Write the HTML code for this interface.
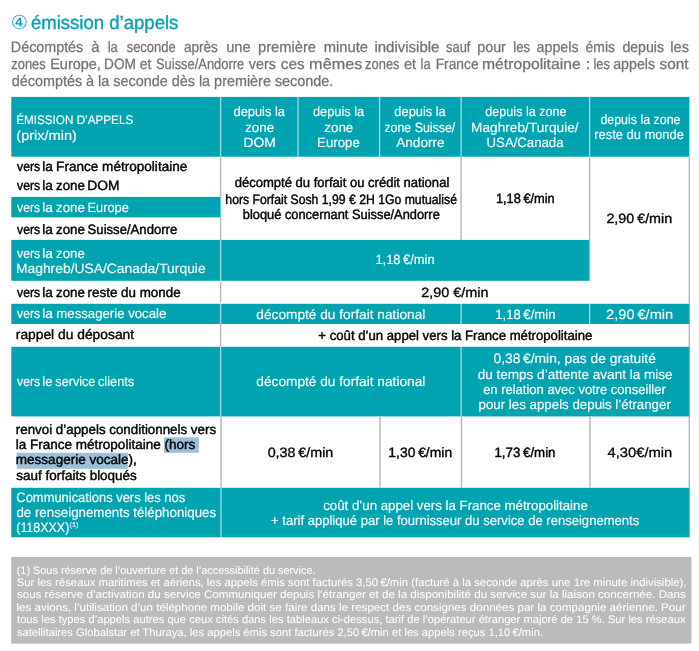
<!DOCTYPE html>
<html lang="fr"><head><meta charset="utf-8"><title>émission d’appels</title>
<style>
html,body{margin:0;padding:0;background:#fff;}
body{width:699px;height:651px;overflow:hidden;font-family:'Liberation Sans', sans-serif;}
svg{display:block}
svg text{font-family:'Liberation Sans', sans-serif;white-space:pre;text-rendering:geometricPrecision;}
</style></head><body>
<svg width="699" height="651" viewBox="0 0 699 651">
<g>
<rect x="11.30" y="96.90" width="678.10" height="59.80" fill="#00a3b0"/>
<rect x="11.30" y="196.90" width="209.30" height="20.45" fill="#00a3b0"/>
<rect x="11.30" y="239.90" width="578.30" height="40.90" fill="#00a3b0"/>
<rect x="11.30" y="303.80" width="678.10" height="20.20" fill="#00a3b0"/>
<rect x="11.30" y="346.80" width="678.10" height="69.60" fill="#00a3b0"/>
<rect x="11.30" y="487.80" width="678.10" height="49.40" fill="#00a3b0"/>
<rect x="11.20" y="557.00" width="680.20" height="86.60" fill="#bbbbbb"/>
<rect x="164.00" y="437.30" width="34.80" height="15.50" fill="#9dc0da"/>
<rect x="16.70" y="452.80" width="111.10" height="16.00" fill="#9dc0da"/>
<rect x="219.95" y="96.90" width="1.30" height="59.80" fill="#ffffff" fill-opacity="0.62"/>
<rect x="297.35" y="96.90" width="1.30" height="59.80" fill="#ffffff" fill-opacity="0.62"/>
<rect x="378.95" y="96.90" width="1.30" height="59.80" fill="#ffffff" fill-opacity="0.62"/>
<rect x="460.45" y="96.90" width="1.30" height="59.80" fill="#ffffff" fill-opacity="0.62"/>
<rect x="588.95" y="96.90" width="1.30" height="59.80" fill="#ffffff" fill-opacity="0.62"/>
<rect x="219.95" y="239.90" width="1.30" height="40.90" fill="#ffffff" fill-opacity="0.62"/>
<rect x="219.95" y="303.80" width="1.30" height="20.20" fill="#ffffff" fill-opacity="0.62"/>
<rect x="460.45" y="303.80" width="1.30" height="20.20" fill="#ffffff" fill-opacity="0.62"/>
<rect x="588.95" y="303.80" width="1.30" height="20.20" fill="#ffffff" fill-opacity="0.62"/>
<rect x="219.95" y="346.80" width="1.30" height="69.60" fill="#ffffff" fill-opacity="0.62"/>
<rect x="460.45" y="346.80" width="1.30" height="69.60" fill="#ffffff" fill-opacity="0.62"/>
<rect x="220.35" y="487.80" width="1.30" height="49.40" fill="#ffffff" fill-opacity="0.62"/>
<rect x="219.90" y="156.70" width="1.40" height="40.20" fill="#b6b6b6"/>
<rect x="219.90" y="217.35" width="1.40" height="22.55" fill="#b6b6b6"/>
<rect x="460.40" y="156.70" width="1.40" height="83.20" fill="#b6b6b6"/>
<rect x="588.90" y="156.70" width="1.40" height="124.10" fill="#b6b6b6"/>
<rect x="219.90" y="281.80" width="1.40" height="20.70" fill="#b6b6b6"/>
<rect x="219.90" y="324.00" width="1.40" height="22.80" fill="#b6b6b6"/>
<rect x="220.30" y="416.40" width="1.40" height="71.40" fill="#b6b6b6"/>
<rect x="379.30" y="416.40" width="1.40" height="71.40" fill="#b6b6b6"/>
<rect x="460.80" y="416.40" width="1.40" height="71.40" fill="#b6b6b6"/>
<rect x="589.30" y="416.40" width="1.40" height="71.40" fill="#b6b6b6"/>
<rect x="688.75" y="156.70" width="0.90" height="380.50" fill="#8f8f8f"/>
<rect x="11.30" y="537.10" width="678.10" height="0.60" fill="#b6b6b6" fill-opacity="0.5"/>
</g>
<g>
<text x="10.85" y="28.85" font-size="19.25" fill="#06a1b4" font-family="&quot;DejaVu Sans&quot;, sans-serif">④</text>
<text transform="translate(30.91 28.70) scale(0.9764 1)" font-size="19" fill="#06a1b4" stroke="#06a1b4" stroke-width="0.35">émission d’appels</text>
<text transform="translate(10.83 51.80) scale(0.9542 1)" font-size="15.0" fill="#707174" stroke="#707174" stroke-width="0.25">Décomptés</text>
<text transform="translate(91.37 51.80) scale(0.9864 1)" font-size="15.0" fill="#707174" stroke="#707174" stroke-width="0.25">à</text>
<text transform="translate(107.63 51.80) scale(0.8627 1)" font-size="15.0" fill="#707174" stroke="#707174" stroke-width="0.25">la</text>
<text transform="translate(126.64 51.80) scale(0.8647 1)" font-size="15.0" fill="#707174" stroke="#707174" stroke-width="0.25">seconde</text>
<text transform="translate(183.92 51.80) scale(0.9053 1)" font-size="15.0" fill="#707174" stroke="#707174" stroke-width="0.25">après</text>
<text transform="translate(226.15 51.80) scale(0.9792 1)" font-size="15.0" fill="#707174" stroke="#707174" stroke-width="0.25">une</text>
<text transform="translate(258.05 51.80) scale(0.9782 1)" font-size="15.0" fill="#707174" stroke="#707174" stroke-width="0.25">première</text>
<text transform="translate(323.72 51.80) scale(0.9825 1)" font-size="15.0" fill="#707174" stroke="#707174" stroke-width="0.25">minute</text>
<text transform="translate(374.40 51.80) scale(1.0006 1)" font-size="15.0" fill="#707174" stroke="#707174" stroke-width="0.25">indivisible</text>
<text transform="translate(446.02 51.80) scale(0.8600 1)" font-size="15.0" fill="#707174" stroke="#707174" stroke-width="0.25">sauf</text>
<text transform="translate(477.28 51.80) scale(0.9512 1)" font-size="15.0" fill="#707174" stroke="#707174" stroke-width="0.25">pour</text>
<text transform="translate(513.31 51.80) scale(0.8796 1)" font-size="15.0" fill="#707174" stroke="#707174" stroke-width="0.25">les</text>
<text transform="translate(536.60 51.80) scale(0.9483 1)" font-size="15.0" fill="#707174" stroke="#707174" stroke-width="0.25">appels</text>
<text transform="translate(585.61 51.80) scale(0.9282 1)" font-size="15.0" fill="#707174" stroke="#707174" stroke-width="0.25">émis</text>
<text transform="translate(622.41 51.80) scale(0.9412 1)" font-size="15.0" fill="#707174" stroke="#707174" stroke-width="0.25">depuis</text>
<text transform="translate(670.31 51.80) scale(0.9760 1)" font-size="15.0" fill="#707174" stroke="#707174" stroke-width="0.25">les</text>
<text transform="translate(11.31 68.80) scale(0.8600 1)" font-size="15.0" fill="#707174" stroke="#707174" stroke-width="0.25">zones</text>
<text transform="translate(50.22 68.80) scale(0.9628 1)" font-size="15.0" fill="#707174" stroke="#707174" stroke-width="0.25">Europe,</text>
<text transform="translate(104.08 68.80) scale(0.9098 1)" font-size="15.0" fill="#707174" stroke="#707174" stroke-width="0.25">DOM</text>
<text transform="translate(139.81 68.80) scale(0.9267 1)" font-size="15.0" fill="#707174" stroke="#707174" stroke-width="0.25">et</text>
<text transform="translate(156.00 68.80) scale(0.8600 1)" font-size="15.0" fill="#707174" stroke="#707174" stroke-width="0.25">Suisse/Andorre</text>
<text transform="translate(248.75 68.80) scale(0.9552 1)" font-size="15.0" fill="#707174" stroke="#707174" stroke-width="0.25">vers</text>
<text transform="translate(280.75 68.80) scale(1.0197 1)" font-size="15.0" fill="#707174" stroke="#707174" stroke-width="0.25">ces</text>
<text transform="translate(309.12 68.80) scale(1.0811 1)" font-size="15.0" fill="#707174" stroke="#707174" stroke-width="0.25">mêmes</text>
<text transform="translate(365.11 68.80) scale(0.8600 1)" font-size="15.0" fill="#707174" stroke="#707174" stroke-width="0.25">zones</text>
<text transform="translate(403.88 68.80) scale(0.9777 1)" font-size="15.0" fill="#707174" stroke="#707174" stroke-width="0.25">et</text>
<text transform="translate(420.55 68.80) scale(0.8600 1)" font-size="15.0" fill="#707174" stroke="#707174" stroke-width="0.25">la</text>
<text transform="translate(435.67 68.80) scale(0.9199 1)" font-size="15.0" fill="#707174" stroke="#707174" stroke-width="0.25">France</text>
<text transform="translate(481.96 68.80) scale(1.0480 1)" font-size="15.0" fill="#707174" stroke="#707174" stroke-width="0.25">métropolitaine</text>
<text transform="translate(585.60 68.80) scale(1.2000 1)" font-size="15.0" fill="#707174" stroke="#707174" stroke-width="0.25">:</text>
<text transform="translate(593.45 68.80) scale(0.8600 1)" font-size="15.0" fill="#707174" stroke="#707174" stroke-width="0.25">les</text>
<text transform="translate(613.20 68.80) scale(0.9483 1)" font-size="15.0" fill="#707174" stroke="#707174" stroke-width="0.25">appels</text>
<text transform="translate(659.57 68.80) scale(1.0243 1)" font-size="15.0" fill="#707174" stroke="#707174" stroke-width="0.25">sont</text>
<text transform="translate(11.70 85.80) scale(0.9595 1)" font-size="15.0" fill="#707174" stroke="#707174" stroke-width="0.25">décomptés à la seconde dès la première seconde.</text>
<text transform="translate(16.14 124.30) scale(0.9448 1)" font-size="12.4" fill="#ffffff" stroke="#ffffff" stroke-width="0.15">ÉMISSION D’APPELS</text>
<text transform="translate(16.30 139.90) scale(1.0774 1)" font-size="13.5" fill="#ffffff" stroke="#ffffff" stroke-width="0.15">(prix/min)</text>
<text transform="translate(233.56 116.20) scale(0.9500 1)" font-size="13.5" fill="#ffffff" stroke="#ffffff" stroke-width="0.15">depuis la</text>
<text transform="translate(245.16 131.70) scale(0.9919 1)" font-size="13.5" fill="#ffffff" stroke="#ffffff" stroke-width="0.15">zone</text>
<text transform="translate(243.46 146.80) scale(1.0280 1)" font-size="13.5" fill="#ffffff" stroke="#ffffff" stroke-width="0.15">DOM</text>
<text transform="translate(312.96 116.20) scale(0.9481 1)" font-size="13.5" fill="#ffffff" stroke="#ffffff" stroke-width="0.15">depuis la</text>
<text transform="translate(324.26 131.70) scale(0.9919 1)" font-size="13.5" fill="#ffffff" stroke="#ffffff" stroke-width="0.15">zone</text>
<text transform="translate(317.11 146.80) scale(0.9803 1)" font-size="13.5" fill="#ffffff" stroke="#ffffff" stroke-width="0.15">Europe</text>
<text transform="translate(394.36 116.20) scale(0.9500 1)" font-size="13.5" fill="#ffffff" stroke="#ffffff" stroke-width="0.15">depuis la</text>
<text transform="translate(384.40 131.70) scale(0.9173 1)" font-size="13.5" fill="#ffffff" stroke="#ffffff" stroke-width="0.15">zone Suisse/</text>
<text transform="translate(396.27 146.80) scale(1.0042 1)" font-size="13.5" fill="#ffffff" stroke="#ffffff" stroke-width="0.15">Andorre</text>
<text transform="translate(485.37 116.20) scale(0.9313 1)" font-size="13.5" fill="#ffffff" stroke="#ffffff" stroke-width="0.15">depuis la zone</text>
<text transform="translate(471.08 131.70) scale(1.0138 1)" font-size="13.5" fill="#ffffff" stroke="#ffffff" stroke-width="0.15">Maghreb/Turquie/</text>
<text transform="translate(486.58 146.80) scale(0.9761 1)" font-size="13.5" fill="#ffffff" stroke="#ffffff" stroke-width="0.15">USA/Canada</text>
<text transform="translate(600.38 123.50) scale(0.9197 1)" font-size="13.5" fill="#ffffff" stroke="#ffffff" stroke-width="0.15">depuis la zone</text>
<text transform="translate(594.24 138.90) scale(0.9555 1)" font-size="13.5" fill="#ffffff" stroke="#ffffff" stroke-width="0.15">reste du monde</text>
<text transform="translate(17.06 170.70) scale(0.9011 1)" font-size="13.5" fill="#000000" stroke="#000000" stroke-width="0.42">vers</text>
<text transform="translate(42.28 170.70) scale(1.0107 1)" font-size="13.5" fill="#000000" stroke="#000000" stroke-width="0.4029385429385436">la</text>
<text transform="translate(56.09 170.70) scale(1.0050 1)" font-size="13.5" fill="#000000" stroke="#000000" stroke-width="0.4120090337933594">France métropolitaine</text>
<text transform="translate(17.06 189.60) scale(0.9011 1)" font-size="13.5" fill="#000000" stroke="#000000" stroke-width="0.42">vers</text>
<text transform="translate(42.28 189.60) scale(1.0107 1)" font-size="13.5" fill="#000000" stroke="#000000" stroke-width="0.4029385429385436">la</text>
<text transform="translate(56.06 189.60) scale(0.9848 1)" font-size="13.5" fill="#000000" stroke="#000000" stroke-width="0.42">zone</text>
<text transform="translate(87.17 189.60) scale(1.0246 1)" font-size="13.5" fill="#000000" stroke="#000000" stroke-width="0.38069838411126117">DOM</text>
<text transform="translate(17.06 211.50) scale(0.9011 1)" font-size="13.5" fill="#ffffff" stroke="#ffffff" stroke-width="0.15">vers</text>
<text transform="translate(42.28 211.50) scale(1.0107 1)" font-size="13.5" fill="#ffffff" stroke="#ffffff" stroke-width="0.15">la</text>
<text transform="translate(56.06 211.50) scale(0.9848 1)" font-size="13.5" fill="#ffffff" stroke="#ffffff" stroke-width="0.15">zone</text>
<text transform="translate(87.45 211.50) scale(0.9516 1)" font-size="13.5" fill="#ffffff" stroke="#ffffff" stroke-width="0.15">Europe</text>
<text transform="translate(17.06 233.60) scale(0.9011 1)" font-size="13.5" fill="#000000" stroke="#000000" stroke-width="0.42">vers</text>
<text transform="translate(42.28 233.60) scale(1.0107 1)" font-size="13.5" fill="#000000" stroke="#000000" stroke-width="0.4029385429385436">la</text>
<text transform="translate(56.06 233.60) scale(0.9848 1)" font-size="13.5" fill="#000000" stroke="#000000" stroke-width="0.42">zone</text>
<text transform="translate(87.60 233.60) scale(0.9716 1)" font-size="13.5" fill="#000000" stroke="#000000" stroke-width="0.42">Suisse/Andorre</text>
<text transform="translate(17.06 258.20) scale(0.9011 1)" font-size="13.5" fill="#ffffff" stroke="#ffffff" stroke-width="0.15">vers</text>
<text transform="translate(42.28 258.20) scale(1.0107 1)" font-size="13.5" fill="#ffffff" stroke="#ffffff" stroke-width="0.15">la</text>
<text transform="translate(56.06 258.20) scale(0.9848 1)" font-size="13.5" fill="#ffffff" stroke="#ffffff" stroke-width="0.15">zone</text>
<text transform="translate(15.96 273.20) scale(1.0260 1)" font-size="13.5" fill="#ffffff" stroke="#ffffff" stroke-width="0.15">Maghreb/USA/Canada/Turquie</text>
<text transform="translate(17.06 296.60) scale(0.9011 1)" font-size="13.5" fill="#000000" stroke="#000000" stroke-width="0.42">vers</text>
<text transform="translate(42.28 296.60) scale(1.0107 1)" font-size="13.5" fill="#000000" stroke="#000000" stroke-width="0.4029385429385436">la</text>
<text transform="translate(56.06 296.60) scale(0.9848 1)" font-size="13.5" fill="#000000" stroke="#000000" stroke-width="0.42">zone</text>
<text transform="translate(87.61 296.60) scale(0.9912 1)" font-size="13.5" fill="#000000" stroke="#000000" stroke-width="0.42">reste du monde</text>
<text transform="translate(17.06 318.20) scale(0.9011 1)" font-size="13.5" fill="#ffffff" stroke="#ffffff" stroke-width="0.15">vers</text>
<text transform="translate(42.28 318.20) scale(1.0107 1)" font-size="13.5" fill="#ffffff" stroke="#ffffff" stroke-width="0.15">la</text>
<text transform="translate(56.32 318.20) scale(0.9770 1)" font-size="13.5" fill="#ffffff" stroke="#ffffff" stroke-width="0.15">messagerie vocale</text>
<text transform="translate(15.78 339.30) scale(1.0236 1)" font-size="13.5" fill="#000000" stroke="#000000" stroke-width="0.38228063784232913">rappel du déposant</text>
<text transform="translate(17.06 385.60) scale(0.9011 1)" font-size="13.5" fill="#ffffff" stroke="#ffffff" stroke-width="0.15">vers</text>
<text transform="translate(42.31 385.60) scale(0.9780 1)" font-size="13.5" fill="#ffffff" stroke="#ffffff" stroke-width="0.15">le</text>
<text transform="translate(55.35 385.60) scale(0.9357 1)" font-size="13.5" fill="#ffffff" stroke="#ffffff" stroke-width="0.15">service</text>
<text transform="translate(97.96 385.60) scale(0.9488 1)" font-size="13.5" fill="#ffffff" stroke="#ffffff" stroke-width="0.15">clients</text>
<text transform="translate(15.81 433.70) scale(0.9884 1)" font-size="13.5" fill="#000000" stroke="#000000" stroke-width="0.42">renvoi d’appels conditionnels vers</text>
<text transform="translate(15.79 448.60) scale(1.0004 1)" font-size="13.5" fill="#000000" stroke="#000000" stroke-width="0.4193918862366236">la France métropolitaine (hors</text>
<text transform="translate(15.80 464.00) scale(1.0018 1)" font-size="13.5" fill="#000000" stroke="#000000" stroke-width="0.4171946799626462">messagerie vocale),</text>
<text transform="translate(16.33 479.70) scale(0.9970 1)" font-size="13.5" fill="#000000" stroke="#000000" stroke-width="0.42">sauf forfaits bloqués</text>
<text transform="translate(16.34 501.80) scale(0.9509 1)" font-size="13.6" fill="#ffffff" stroke="#ffffff" stroke-width="0.15">Communications vers les nos</text>
<text transform="translate(16.44 516.90) scale(0.9784 1)" font-size="13.6" fill="#ffffff" stroke="#ffffff" stroke-width="0.15">de renseignements téléphoniques</text>
<text transform="translate(16.23 532.40) scale(0.9157 1)" font-size="13.6" fill="#ffffff" stroke="#ffffff" stroke-width="0.15">(118XXX)</text>
<text transform="translate(69.44 527.00) scale(1.0853 1)" font-size="6.8" fill="#ffffff" stroke="#ffffff" stroke-width="0.1">(1)</text>
<text transform="translate(234.65 186.50) scale(0.9662 1)" font-size="13.5" fill="#000000" stroke="#000000" stroke-width="0.42">décompté du forfait ou crédit national</text>
<text transform="translate(225.35 203.70) scale(0.9051 1)" font-size="13.5" fill="#000000" stroke="#000000" stroke-width="0.42">hors Forfait Sosh 1,99 € 2H 1Go mutualisé</text>
<text transform="translate(242.77 218.50) scale(0.9511 1)" font-size="13.5" fill="#000000" stroke="#000000" stroke-width="0.42">bloqué concernant Suisse/Andorre</text>
<text transform="translate(495.92 203.00) scale(0.9487 1)" font-size="13.5" fill="#000000" stroke="#000000" stroke-width="0.42">1,18 €/min</text>
<text transform="translate(606.38 223.30) scale(1.0623 1)" font-size="13.5" fill="#000000" stroke="#000000" stroke-width="0.32028311033546797">2,90 €/min</text>
<text transform="translate(375.42 264.20) scale(0.9537 1)" font-size="13.5" fill="#ffffff" stroke="#ffffff" stroke-width="0.15">1,18 €/min</text>
<text transform="translate(421.28 296.80) scale(1.0670 1)" font-size="13.5" fill="#000000" stroke="#000000" stroke-width="0.31282505192015153">2,90 €/min</text>
<text transform="translate(256.32 318.90) scale(1.0143 1)" font-size="13.5" fill="#ffffff" stroke="#ffffff" stroke-width="0.15">décompté du forfait national</text>
<text transform="translate(495.20 318.90) scale(0.9720 1)" font-size="13.5" fill="#ffffff" stroke="#ffffff" stroke-width="0.15">1,18 €/min</text>
<text transform="translate(606.06 318.90) scale(1.0838 1)" font-size="13.5" fill="#ffffff" stroke="#ffffff" stroke-width="0.15">2,90 €/min</text>
<text transform="translate(318.36 339.80) scale(0.9747 1)" font-size="13.5" fill="#000000" stroke="#000000" stroke-width="0.42">+ coût d’un appel vers la France métropolitaine</text>
<text transform="translate(256.32 385.70) scale(1.0143 1)" font-size="13.5" fill="#ffffff" stroke="#ffffff" stroke-width="0.15">décompté du forfait national</text>
<text transform="translate(493.46 362.70) scale(1.0224 1)" font-size="13.5" fill="#ffffff" stroke="#ffffff" stroke-width="0.15">0,38 €/min, pas de gratuité</text>
<text transform="translate(477.63 378.60) scale(1.0031 1)" font-size="13.5" fill="#ffffff" stroke="#ffffff" stroke-width="0.15">du temps d’attente avant la mise</text>
<text transform="translate(483.15 393.60) scale(0.9616 1)" font-size="13.5" fill="#ffffff" stroke="#ffffff" stroke-width="0.15">en relation avec votre conseiller</text>
<text transform="translate(478.54 409.00) scale(0.9854 1)" font-size="13.5" fill="#ffffff" stroke="#ffffff" stroke-width="0.15">pour les appels depuis l’étranger</text>
<text transform="translate(267.64 457.10) scale(1.0597 1)" font-size="13.5" fill="#000000" stroke="#000000" stroke-width="0.3245365635464648">0,38 €/min</text>
<text transform="translate(388.34 457.10) scale(1.0286 1)" font-size="13.5" fill="#000000" stroke="#000000" stroke-width="0.37431023343694714">1,30 €/min</text>
<text transform="translate(494.49 457.10) scale(0.9836 1)" font-size="13.5" fill="#000000" stroke="#000000" stroke-width="0.42">1,73 €/min</text>
<text transform="translate(607.46 457.10) scale(1.0929 1)" font-size="13.5" fill="#000000" stroke="#000000" stroke-width="0.271293817075528">4,30€/min</text>
<text transform="translate(323.24 509.60) scale(0.9820 1)" font-size="13.5" fill="#ffffff" stroke="#ffffff" stroke-width="0.15">coût d’un appel vers la France métropolitaine</text>
<text transform="translate(271.06 525.10) scale(0.9666 1)" font-size="13.5" fill="#ffffff" stroke="#ffffff" stroke-width="0.15">+ tarif appliqué par le fournisseur du service de renseignements</text>
<text transform="translate(16.73 573.60) scale(0.9892 1)" font-size="11" fill="#ffffff" stroke="#ffffff" stroke-width="0.06">(1) Sous réserve de l’ouverture et de l’accessibilité du service.</text>
<text transform="translate(16.69 585.70) scale(1.0299 1)" font-size="11" fill="#ffffff" word-spacing="-0.000" stroke="#ffffff" stroke-width="0.06">Sur les réseaux maritimes et aériens, les appels émis sont facturés 3,50 €/min (facturé à la seconde après une 1re minute indivisible),</text>
<text transform="translate(16.88 598.40) scale(1.0550 1)" font-size="11" fill="#ffffff" word-spacing="0.000" stroke="#ffffff" stroke-width="0.06">sous réserve d’activation du service Communiquer depuis l’étranger et de la disponibilité du service sur la liaison concernée. Dans</text>
<text transform="translate(16.42 610.75) scale(1.0532 1)" font-size="11" fill="#ffffff" word-spacing="0.000" stroke="#ffffff" stroke-width="0.06">les avions, l’utilisation d’un téléphone mobile doit se faire dans le respect des consignes données par la compagnie aérienne. Pour</text>
<text transform="translate(17.03 623.30) scale(1.0161 1)" font-size="11" fill="#ffffff" word-spacing="0.000" stroke="#ffffff" stroke-width="0.06">tous les types d’appels autres que ceux cités dans les tableaux ci-dessus, tarif de l’opérateur étranger majoré de 15 %. Sur les réseaux</text>
<text transform="translate(16.89 635.55) scale(1.0185 1)" font-size="11" fill="#ffffff" stroke="#ffffff" stroke-width="0.06">satellitaires Globalstar et Thuraya, les appels émis sont facturés 2,50 €/min et les appels reçus 1,10 €/min.</text>
</g>
</svg>
</body></html>
